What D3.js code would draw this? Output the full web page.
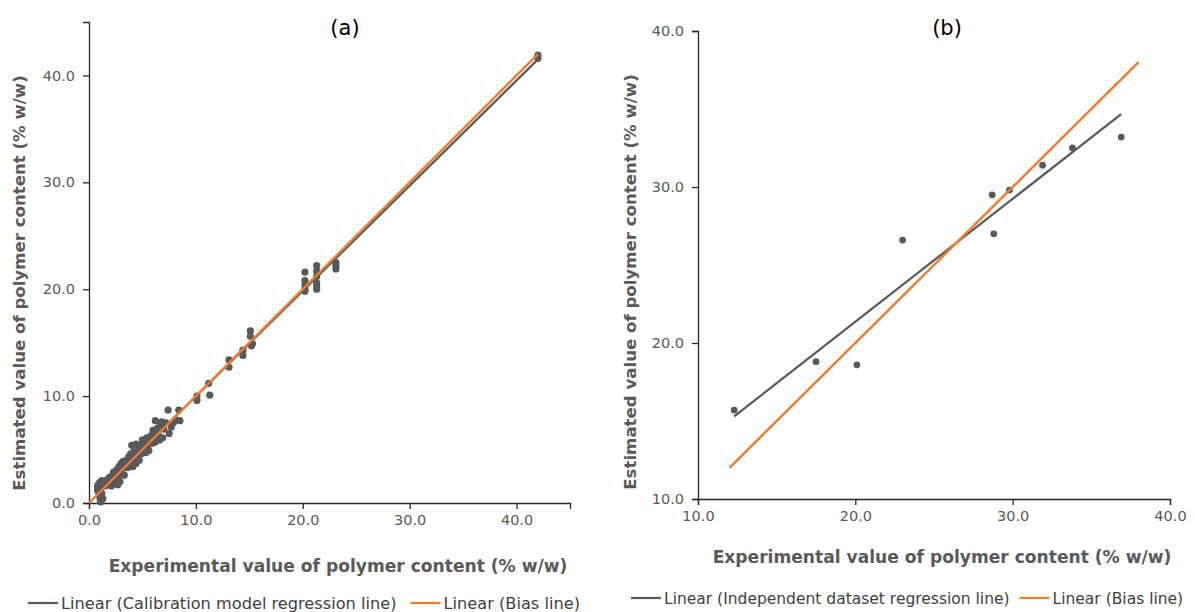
<!DOCTYPE html>
<html>
<head>
<meta charset="utf-8">
<script src="https://cdn.jsdelivr.net/npm/d3@7"></script>
<style>
  html, body { margin: 0; padding: 0; background: #fff; }
  svg { display: block; }
  text { font-family: "DejaVu Sans", Verdana, sans-serif; }
</style>
</head>
<body>
<svg id="chart" width="1195" height="612"></svg>
<script>
// ---- Panel (a): calibration set (experimental vs estimated, % w/w)
const calExperimental = [
  0.8, 0.8, 0.85, 0.9, 1.0, 1.0, 1.05, 1.1, 1.1, 1.2, 1.2, 1.3, 1.3,
  1.5, 1.5, 1.7, 1.8, 1.9, 2.0, 2.1, 2.2, 2.3, 2.4, 2.5,
  2.6, 2.7, 2.7, 2.8, 2.9, 3.0, 3.0, 3.1, 3.2, 3.3, 3.4, 3.5,
  3.6, 3.7, 3.8, 3.9, 4.0, 4.0, 4.1, 4.2, 4.3, 4.4, 4.4, 4.5,
  4.6, 4.7, 4.8, 4.9, 5.0, 5.1, 5.2, 5.3, 5.4, 5.5, 5.6,
  5.7, 5.8, 5.9, 6.0, 6.1, 6.2, 6.2, 6.3, 6.4, 6.5, 6.6,
  6.7, 6.8, 6.9, 7.0, 7.2, 7.4, 7.5, 7.7, 7.9, 8.1, 8.4, 8.5,
  10.1, 10.1, 11.2, 11.3, 13.1, 13.1, 14.4, 14.4, 15.1, 15.1, 15.2, 15.3,
  20.2, 20.2, 20.2, 20.2, 20.2, 21.3, 21.3, 21.3, 21.3, 21.3, 21.3,
  23.1, 23.1, 23.1, 42.0, 42.0
];
const calEstimated = [
  1.2, 1.5, 1.7, 1.0, 1.9, 0.6, 0.3, 0.1, 1.4, 2.1, 0.9, 1.8, 0.4,
  2.0, 1.6, 2.2, 1.7, 2.4, 2.0, 1.6, 2.6, 2.9, 2.2, 1.8,
  3.1, 2.5, 1.7, 3.4, 2.0, 3.7, 2.8, 3.2, 3.9, 2.6, 3.5, 4.0,
  3.3, 4.3, 3.7, 4.6, 3.9, 5.4, 3.4, 4.8, 4.2, 5.5, 3.7, 4.5,
  5.1, 4.0, 5.4, 4.6, 5.9, 5.0, 5.6, 4.7, 6.1, 5.3, 4.9,
  5.8, 6.3, 5.6, 6.8, 6.2, 7.7, 5.7, 6.6, 7.0, 6.3, 5.9,
  7.4, 7.6, 6.1, 6.9, 7.5, 8.7, 6.5, 7.1, 7.5, 7.8, 8.7, 7.7,
  10.0, 9.6, 11.2, 10.1, 13.4, 12.7, 14.3, 13.8, 16.1, 15.6, 14.7, 14.9,
  21.6, 20.8, 20.4, 20.0, 19.8, 22.2, 21.7, 21.2, 20.6, 20.3, 20.0,
  22.5, 22.2, 21.9, 41.6, 41.9
];
const calBias = [0, 42];

// ---- Panel (b): independent dataset
const indExperimental = [12.3, 17.5, 20.1, 23.0, 28.7, 28.8, 29.8, 31.9, 33.8, 36.9];
const indEstimated    = [15.7, 18.8, 18.6, 26.6, 29.5, 27.0, 29.8, 31.4, 32.5, 33.2];
const indBias = [12, 38];

// ---- Axis ticks and texts
const ticksA = [0, 10, 20, 30, 40];
const ticksB = [10, 20, 30, 40];
const xTitle = "Experimental value of polymer content (% w/w)";
const yTitle = "Estimated value of polymer content (% w/w)";
const legendA = ["Linear (Calibration model regression line)", "Linear (Bias line)"];
const legendB = ["Linear (Independent dataset regression line)", "Linear (Bias line)"];

const GREY = "#595959", ORANGE = "#ED7D31", AXIS = "#262626", LABEL = "#595959";

// least-squares fit
function fit(xs, ys) {
  const mx = d3.mean(xs), my = d3.mean(ys);
  let sxy = 0, sxx = 0;
  xs.forEach((x, i) => { sxy += (x - mx) * (ys[i] - my); sxx += (x - mx) ** 2; });
  const b = sxy / sxx;
  return { b, a: my - b * mx };
}

const svg = d3.select("#chart");

function panel(cfg) {
  const g = svg.append("g");
  const x = d3.scaleLinear().domain(cfg.xDomain).range(cfg.xRange);
  const y = d3.scaleLinear().domain(cfg.yDomain).range(cfg.yRange);
  const fmt = d3.format(".1f");

  const xAxis = g.append("g").attr("transform", `translate(0,${cfg.yRange[0]})`)
    .call(d3.axisBottom(x).tickValues(cfg.ticksX).tickFormat(fmt).tickSizeOuter(0).tickSize(6).tickPadding(6));
  const yAxis = g.append("g").attr("transform", `translate(${cfg.xRange[0]},0)`)
    .call(d3.axisLeft(y).tickValues(cfg.ticksY).tickFormat(fmt).tickSizeOuter(0).tickSize(6).tickPadding(8));
  [xAxis, yAxis].forEach(a => {
    a.select(".domain").attr("stroke", AXIS).attr("stroke-width", 1.3);
    a.selectAll(".tick line").attr("stroke", AXIS).attr("stroke-width", 1.3);
    a.selectAll(".tick text").attr("fill", LABEL).attr("font-size", 14.5)
      .attr("font-family", "DejaVu Sans, sans-serif");
  });

  // points
  g.append("g").selectAll("circle")
    .data(cfg.xs.map((v, i) => [v, cfg.ys[i]]))
    .join("circle")
    .attr("cx", d => x(d[0])).attr("cy", d => y(d[1]))
    .attr("r", cfg.r).attr("fill", GREY);

  // regression line over the data range
  const f = fit(cfg.xs, cfg.ys);
  const [x0, x1] = d3.extent(cfg.xs);
  g.append("line")
    .attr("x1", x(x0)).attr("y1", y(f.a + f.b * x0))
    .attr("x2", x(x1)).attr("y2", y(f.a + f.b * x1))
    .attr("stroke", GREY).attr("stroke-width", 2.2);

  // bias line y = x
  g.append("line")
    .attr("x1", x(cfg.bias[0])).attr("y1", y(cfg.bias[0]))
    .attr("x2", x(cfg.bias[1])).attr("y2", y(cfg.bias[1]))
    .attr("stroke", ORANGE).attr("stroke-width", 2.4);

  // panel label
  g.append("text").attr("x", cfg.title[1]).attr("y", cfg.title[2])
    .attr("text-anchor", "middle").attr("font-size", 21).attr("fill", "#000")
    .text(cfg.title[0]);

  // axis titles
  g.append("text").attr("x", cfg.xt[0]).attr("y", cfg.xt[1])
    .attr("text-anchor", "middle").attr("font-size", 17.1).attr("font-weight", "bold")
    .attr("fill", LABEL).text(xTitle);
  g.append("text")
    .attr("transform", `translate(${cfg.yt[0]},${cfg.yt[1]}) rotate(-90)`)
    .attr("text-anchor", "middle").attr("font-size", 16.6).attr("font-weight", "bold")
    .attr("fill", LABEL).text(yTitle);

  // legend
  const lg = g.append("g");
  const items = [[GREY, cfg.legend[0]], [ORANGE, cfg.legend[1]]];
  let cx = cfg.leg[0];
  items.forEach(([c, t], i) => {
    lg.append("line").attr("x1", cx).attr("x2", cx + 30)
      .attr("y1", cfg.leg[1]).attr("y2", cfg.leg[1])
      .attr("stroke", c).attr("stroke-width", 2.2);
    const tx = lg.append("text").attr("x", cx + 33).attr("y", cfg.leg[1] + 6)
      .attr("font-size", cfg.leg[3]).attr("fill", "#404040").text(t);
    cx += 33 + tx.node().getComputedTextLength() + cfg.leg[2];
  });
}

panel({
  xs: calExperimental, ys: calEstimated, bias: calBias, r: 3.6,
  xDomain: [0, 45], xRange: [89, 570],
  yDomain: [0, 45], yRange: [503, 22],
  ticksX: ticksA, ticksY: ticksA,
  title: ["(a)", 345, 35],
  xt: [338, 572], yt: [25, 283],
  legend: legendA, leg: [28, 603, 14, 16.2]
});

panel({
  xs: indExperimental, ys: indEstimated, bias: indBias, r: 3.4,
  xDomain: [10, 40], xRange: [698, 1170],
  yDomain: [10, 40], yRange: [499, 31],
  ticksX: ticksB, ticksY: ticksB,
  title: ["(b)", 947, 35],
  xt: [942, 563], yt: [636, 282],
  legend: legendB, leg: [631, 598, 10, 15.5]
});
</script>
</body>
</html>
